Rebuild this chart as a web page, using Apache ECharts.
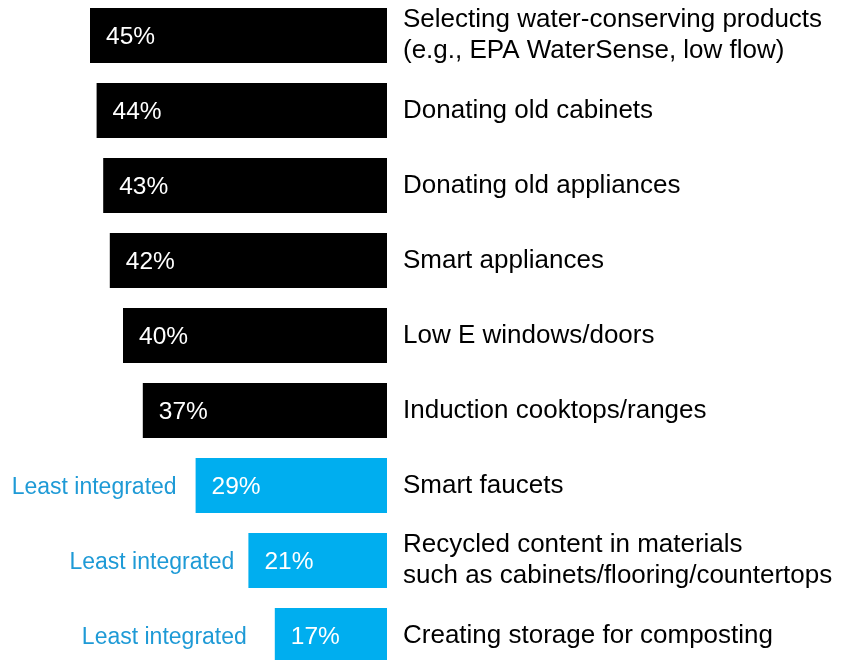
<!DOCTYPE html>
<html>
<head>
<meta charset="utf-8">
<script src="https://cdn.jsdelivr.net/npm/echarts@6/dist/echarts.min.js"></script>
<style>
  html, body { margin: 0; padding: 0; background: #ffffff; overflow: hidden; }
  #chart { width: 846px; height: 660px; }
</style>
</head>
<body>
<div id="chart"></div>
<script>
// Sustainable features, share of respondents (top to bottom)
const categories = [
  'Selecting water-conserving products\n(e.g., EPA WaterSense, low flow)',
  'Donating old cabinets',
  'Donating old appliances',
  'Smart appliances',
  'Low E windows/doors',
  'Induction cooktops/ranges',
  'Smart faucets',
  'Recycled content in materials\nsuch as cabinets/flooring/countertops',
  'Creating storage for composting'
];
const shares = [45, 44, 43, 42, 40, 37, 29, 21, 17];
// Rows flagged as least integrated get the accent colour and a side note
const leastIntegrated = [false, false, false, false, false, false, true, true, true];
const noteText = 'Least integrated';
const noteGaps = [0, 0, 0, 0, 0, 0, 19, 14, 28];

const FONT = '"Liberation Sans", Arial, Helvetica, sans-serif';
const BLACK = '#000000';
const CYAN = '#00AEEF';
const NOTE_BLUE = '#1E9AD6';

const mainData = shares.map((v, i) => ({
  value: v,
  itemStyle: { color: leastIntegrated[i] ? CYAN : BLACK }
}));

const noteData = shares.map((v, i) => ({
  value: v,
  label: {
    show: leastIntegrated[i],
    distance: noteGaps[i]
  }
}));

const chart = echarts.init(document.getElementById('chart'), null, { renderer: 'canvas' });
chart.setOption({
  animation: false,
  backgroundColor: '#ffffff',
  grid: {
    left: 57, width: 330, top: -2, height: 675,
    containLabel: false,
    outerBoundsMode: 'none'
  },
  xAxis: {
    type: 'value',
    min: 0,
    max: 50,
    inverse: true,
    show: false
  },
  yAxis: {
    type: 'category',
    data: categories,
    inverse: true,
    position: 'right',
    axisLine: { show: false },
    axisTick: { show: false },
    splitLine: { show: false },
    axisLabel: {
      margin: 16,
      align: 'left',
      color: '#000000',
      fontFamily: FONT,
      fontSize: 26,
      lineHeight: 31
    }
  },
  series: [
    {
      type: 'bar',
      data: mainData,
      barWidth: 55,
      silent: true,
      label: {
        show: true,
        position: 'insideLeft',
        distance: 16,
        offset: [0, 2],
        color: '#ffffff',
        fontFamily: FONT,
        fontSize: 24.5,
        formatter: p => p.value + '%'
      }
    },
    {
      type: 'bar',
      data: noteData,
      barWidth: 55,
      barGap: '-100%',
      silent: true,
      itemStyle: { color: 'rgba(0,0,0,0)' },
      label: {
        show: false,
        position: 'left',
        offset: [0, 2],
        color: NOTE_BLUE,
        fontFamily: FONT,
        fontSize: 23,
        formatter: () => noteText
      }
    }
  ]
});
</script>
</body>
</html>
